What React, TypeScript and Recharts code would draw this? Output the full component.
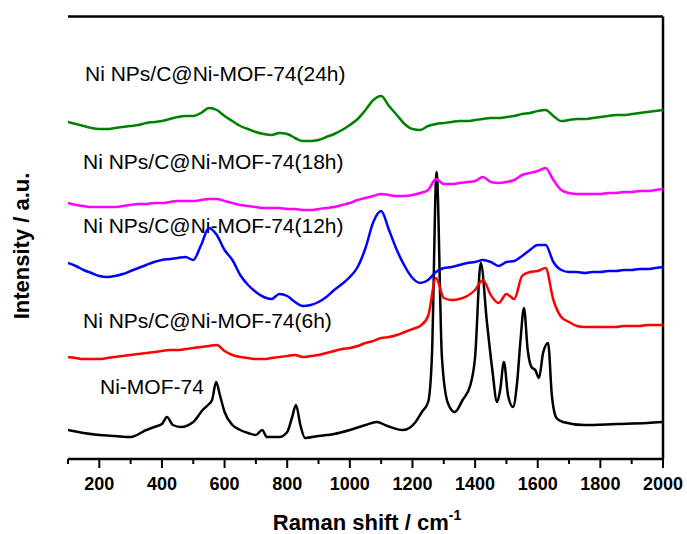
import React from 'react';
import { LineChart, Line, XAxis, YAxis, ReferenceLine } from 'recharts';

// Raman shift grid (cm-1) shared by the four Ni NPs/C@Ni-MOF-74 spectra
const shift = [
  100, 125, 150, 175, 200, 225, 250, 275, 300, 325, 350, 375, 400, 425, 450, 475, 500, 525, 550, 575,
  600, 625, 650, 675, 700, 725, 750, 775, 800, 825, 850, 875, 900, 925, 950, 975, 1000, 1025, 1050, 1075,
  1100, 1125, 1150, 1175, 1200, 1225, 1250, 1275, 1300, 1325, 1350, 1375, 1400, 1425, 1450, 1475, 1500, 1525, 1550, 1575,
  1600, 1625, 1650, 1675, 1700, 1725, 1750, 1775, 1800, 1825, 1850, 1875, 1900, 1925, 1950, 1975, 2000,
];

// stacked intensities (a.u., offset already included)
const h24 = [
  336, 334, 332, 330, 329, 329, 330, 331, 332, 333, 335, 336, 337, 339, 341, 342, 342, 345, 350, 348,
  342, 337, 332, 329, 326, 324, 323, 325, 324, 320, 317, 317, 318, 321, 324, 328, 333, 339, 348, 358,
  362, 352, 343, 334, 329, 328, 332, 334, 335, 336, 337, 337, 338, 339, 340, 340, 341, 342, 344, 345,
  347, 348, 342, 337, 338, 339, 339, 340, 341, 342, 343, 343, 344, 345, 346, 347, 348,
];
const h18 = [
  255, 253, 252, 251, 251, 251, 251, 252, 253, 254, 254, 255, 255, 256, 257, 257, 257, 258, 259, 259,
  257, 255, 253, 252, 251, 250, 250, 250, 249, 249, 248, 248, 249, 250, 251, 253, 255, 258, 260, 262,
  264, 263, 262, 262, 263, 265, 268, 279, 274, 274, 275, 276, 277, 281, 276, 275, 276, 278, 283, 285,
  287, 290, 278, 268, 265, 264, 264, 264, 264, 265, 265, 266, 266, 267, 267, 268, 269,
];
const h12 = [
  195, 192, 188, 185, 182, 181, 182, 184, 187, 190, 193, 196, 198, 199, 200, 201, 198, 213, 230, 223,
  208, 198, 183, 173, 166, 161, 159, 164, 162, 156, 152, 153, 156, 161, 168, 174, 181, 191, 210, 236,
  247, 228, 208, 192, 180, 175, 178, 186, 190, 191, 193, 195, 196, 198, 196, 192, 196, 197, 202, 208,
  213, 213, 196, 188, 186, 186, 185, 186, 186, 187, 187, 188, 188, 189, 189, 190, 191,
];
const h6 = [
  101, 100, 99, 99, 99, 100, 101, 102, 103, 104, 105, 106, 107, 108, 108, 109, 110, 111, 112, 113,
  107, 103, 101, 100, 99, 99, 100, 101, 102, 103, 101, 102, 103, 105, 107, 109, 110, 112, 115, 117,
  120, 121, 123, 126, 129, 132, 142, 180, 160, 158, 159, 162, 168, 178, 163, 155, 164, 159, 182, 186,
  187, 190, 158, 141, 136, 132, 131, 131, 131, 131, 131, 132, 132, 132, 133, 133, 133,
];

// Ni-MOF-74 has sharp bands, so it gets its own finer sampling
const mofShift = [
  100, 150, 200, 250, 300, 350, 375, 400, 416, 435, 460, 500, 530, 547, 560, 573, 585, 600, 625, 650,
  675, 700, 720, 735, 775, 800, 815, 828, 842, 857, 900, 950, 1000, 1050, 1086, 1120, 1170, 1210, 1230, 1250,
  1262, 1277, 1294, 1313, 1335, 1360, 1385, 1400, 1418, 1438, 1455, 1470, 1480, 1492, 1505, 1521, 1534, 1545, 1556, 1568,
  1580, 1592, 1604, 1617, 1633, 1645, 1660, 1680, 1750, 1850, 1950, 2000,
];
const mof = [
  28, 25, 23, 22, 21, 28, 31, 34, 41, 33, 31, 36, 48, 53, 58, 76, 63, 46, 33, 28,
  25, 23, 28, 21, 21, 26, 40, 53, 33, 20, 22, 24, 28, 33, 36, 32, 28, 36, 46, 56,
  101, 286, 101, 55, 46, 58, 73, 101, 195, 135, 88, 56, 68, 96, 63, 51, 75, 118, 150, 108,
  91, 88, 80, 105, 115, 63, 40, 36, 33, 34, 35, 36,
];

const xTicks = [100, 200, 300, 400, 500, 600, 700, 800, 900, 1000, 1100, 1200, 1300, 1400, 1500, 1600, 1700, 1800, 1900, 2000];

const sampleLabels = [
  { text: 'Ni NPs/C@Ni-MOF-74(24h)', x: 85, y: 80.5 },
  { text: 'Ni NPs/C@Ni-MOF-74(18h)', x: 83, y: 168.5 },
  { text: 'Ni NPs/C@Ni-MOF-74(12h)', x: 83, y: 232.5 },
  { text: 'Ni NPs/C@Ni-MOF-74(6h)', x: 83, y: 327.5 },
  { text: 'Ni-MOF-74', x: 100, y: 393.5 },
];

const data = shift.map((s, i) => ({ shift: s, h24: h24[i], h18: h18[i], h12: h12[i], h6: h6[i] }));
const mofData = mofShift.map((s, i) => ({ shift: s, mof: mof[i] }));

const FONT = 'Arial, "Liberation Sans", sans-serif';
const Y_MAX = 441.5;

const ShiftTick = (props: any) => {
  const { x, y, payload } = props;
  const major = payload.value % 200 === 0;
  return (
    <g>
      <line x1={x} x2={x} y1={y} y2={y + (major ? 9 : 5)} stroke="#000" strokeWidth={2} />
      {major && (
        <text x={x} y={y + 30.5} textAnchor="middle" fontFamily={FONT} fontWeight="bold" fontSize={18} fill="#000">
          {payload.value}
        </text>
      )}
    </g>
  );
};

const App: React.FC = () => {
  return (
    <div style={{ position: 'absolute', left: 0, top: 0, background: '#fff' }}>
      <LineChart width={687} height={534} margin={{ top: 16.5, right: 24, bottom: 0, left: 68 }}>
        <XAxis
          dataKey="shift"
          type="number"
          domain={[100, 2000]}
          ticks={xTicks}
          interval={0}
          height={75}
          tickSize={0}
          tickMargin={0}
          tickLine={false}
          tick={<ShiftTick />}
          axisLine={{ stroke: '#000', strokeWidth: 2.5 }}
          allowDataOverflow
        />
        <YAxis domain={[-1, Y_MAX]} width={0} tick={false} tickLine={false} axisLine={{ stroke: '#000', strokeWidth: 2.5 }} />
        {/* closing frame on top and right */}
        <ReferenceLine y={Y_MAX} stroke="#000" strokeWidth={2.5} />
        <ReferenceLine x={2000} stroke="#000" strokeWidth={2.5} />

        <Line data={mofData} dataKey="mof" type="monotone" stroke="#000000" strokeWidth={2.5} dot={false} isAnimationActive={false} />
        <Line data={data} dataKey="h6" type="monotone" stroke="#ff0000" strokeWidth={2.5} dot={false} isAnimationActive={false} />
        <Line data={data} dataKey="h12" type="monotone" stroke="#0000ff" strokeWidth={2.5} dot={false} isAnimationActive={false} />
        <Line data={data} dataKey="h18" type="monotone" stroke="#ff00ff" strokeWidth={2.5} dot={false} isAnimationActive={false} />
        <Line data={data} dataKey="h24" type="monotone" stroke="#008000" strokeWidth={2.5} dot={false} isAnimationActive={false} />

        {sampleLabels.map((l) => (
          <text key={l.text} x={l.x} y={l.y} fontFamily={FONT} fontSize={21} fill="#000">
            {l.text}
          </text>
        ))}
        <text x={367} y={530} textAnchor="middle" fontFamily={FONT} fontWeight="bold" fontSize={22} fill="#000">
          Raman shift / cm
          <tspan fontSize={14} dy={-10}>-1</tspan>
        </text>
        <text
          x={29}
          y={246}
          transform="rotate(-90 29 246)"
          textAnchor="middle"
          fontFamily={FONT}
          fontWeight="bold"
          fontSize={22}
          fill="#000"
        >
          Intensity / a.u.
        </text>
      </LineChart>
    </div>
  );
};

export default App;
